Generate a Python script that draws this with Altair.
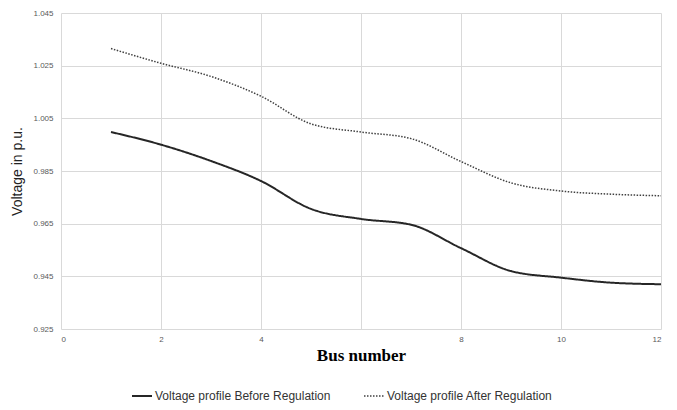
import altair as alt
import pandas as pd

bus = [1, 2, 3, 4, 5, 6, 7, 8, 9, 10, 11, 12]
before = [0.9998, 0.9950, 0.9888, 0.9812, 0.9706, 0.9668, 0.9646, 0.9557, 0.9470, 0.9445, 0.9426, 0.9420]
after = [1.0315, 1.0259, 1.0209, 1.0134, 1.0029, 0.9998, 0.9973, 0.9886, 0.9805, 0.9774, 0.9762, 0.9756]
series_names = ["Voltage profile Before Regulation", "Voltage profile After Regulation"]
x_grid = [0, 2, 4, 6, 8, 10, 12]
x_hidden_label = 6
y_ticks = [0.925, 0.945, 0.965, 0.985, 1.005, 1.025, 1.045]

rows = []
for b, v in zip(bus, before):
    rows.append({"bus": b, "v": v, "series": series_names[0]})
for b, v in zip(bus, after):
    rows.append({"bus": b, "v": v, "series": series_names[1]})
df = pd.DataFrame(rows)

chart = alt.Chart(df).mark_line(interpolate="monotone").encode(
    x=alt.X("bus:Q", scale=alt.Scale(domain=[0, 12], nice=False),
            axis=alt.Axis(values=x_grid, title="Bus number",
                          labelExpr=f"datum.value == {x_hidden_label} ? '' : datum.label",
                          labelFont="Liberation Sans", labelFontSize=8, labelColor="#595959",
                          labelPadding=6,
                          titleFont="Liberation Serif", titleFontSize=17, titleFontWeight="bold",
                          titleColor="#000000", titlePadding=4,
                          ticks=False, domain=False, grid=True, gridColor="#d9d9d9")),
    y=alt.Y("v:Q", scale=alt.Scale(domain=[0.925, 1.045], nice=False, zero=False),
            axis=alt.Axis(values=y_ticks, format=".3f", title="Voltage in p.u.",
                          labelFont="Liberation Sans", labelFontSize=8, labelColor="#595959",
                          labelPadding=8,
                          titleFont="Liberation Sans", titleFontSize=14, titleFontWeight="normal",
                          titleColor="#222222", titlePadding=8,
                          ticks=False, domain=False, grid=True, gridColor="#d9d9d9")),
    color=alt.Color("series:N", sort=series_names,
                    scale=alt.Scale(domain=series_names, range=["#262626", "#404040"]),
                    legend=alt.Legend(title=None, orient="none", direction="horizontal",
                                      legendX=70, legendY=372, labelLimit=400,
                                      symbolType="stroke", symbolSize=400, symbolStrokeWidth=2,
                                      labelFont="Liberation Sans", labelFontSize=12,
                                      labelColor="#333333", labelOffset=2, columnPadding=30)),
    strokeDash=alt.StrokeDash("series:N", sort=series_names,
                              scale=alt.Scale(domain=series_names, range=[[1, 0], [1.5, 1.5]]),
                              legend=None),
    strokeWidth=alt.StrokeWidth("series:N", scale=alt.Scale(domain=series_names, range=[2, 1.5]),
                                legend=None),
).properties(
    width=600, height=316,
    autosize=alt.AutoSizeParams(type="none"),
    padding={"left": 53, "top": 5, "right": 8, "bottom": 80},
).configure_view(stroke=None)

chart.save("out.html", embed_options={"renderer": "svg", "actions": False})
